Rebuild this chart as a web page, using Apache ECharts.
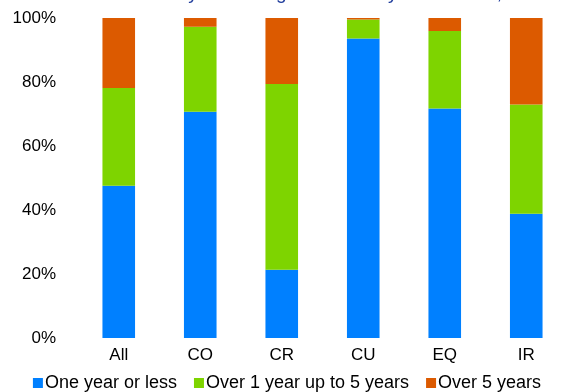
<!DOCTYPE html>
<html><head><meta charset="utf-8">
<script src="https://cdn.jsdelivr.net/npm/echarts@6/dist/echarts.min.js"></script>
<style>html,body{margin:0;padding:0;background:#fff}#c{width:574px;height:392px}</style>
</head><body><div id="c"></div>
<script>
const categories = ['All','CO','CR','CU','EQ','IR'];
const oneYearOrLess = [47.6, 70.7, 21.3, 93.6, 71.7, 38.8];
const oneToFiveYears = [30.5, 26.6, 58.1, 5.9, 24.2, 34.2];
const overFiveYears = [21.9, 2.7, 20.6, 0.5, 4.1, 27.0];
const seriesNames = ['One year or less','Over 1 year up to 5 years','Over 5 years'];
const yTicks = [0,20,40,60,80,100];
const titleText = 'Notional share by remaining tenor and by asset class, %';

const chart = echarts.init(document.getElementById('c'));
const font = 'Liberation Sans, Arial, sans-serif';
const colors = ['#0080FF','#7ED400','#DC5A00'];
const mk = (name, data, i) => ({
  name, type:'bar', stack:'s', data, barWidth:'40%',
  itemStyle:{color:colors[i]}, emphasis:{disabled:true}
});
chart.setOption({
  animation:false,
  title:{text:titleText, left:'center', top:-21, textStyle:{color:'#1F3C9C', fontFamily:font, fontSize:19, fontWeight:'normal'}},
  grid:{left:78, right:7, top:18, bottom:54},
  legend:{bottom:-5, left:'center', itemWidth:10, itemHeight:10, itemGap:17, icon:'rect',
    textStyle:{fontFamily:font, fontSize:18, color:'#000', padding:[0,0,0,-3]},
    data:seriesNames},
  xAxis:{type:'category', data:categories, axisLine:{show:false}, axisTick:{show:false},
    axisLabel:{fontFamily:font, fontSize:17, color:'#000', margin:9}},
  yAxis:{type:'value', min:0, max:100, interval:20, splitLine:{show:false},
    axisLabel:{fontFamily:font, fontSize:17, color:'#000', margin:22, formatter:v=>yTicks.includes(v)?v+'%':''}},
  series:[mk(seriesNames[0],oneYearOrLess,0), mk(seriesNames[1],oneToFiveYears,1), mk(seriesNames[2],overFiveYears,2)]
});
</script></body></html>
